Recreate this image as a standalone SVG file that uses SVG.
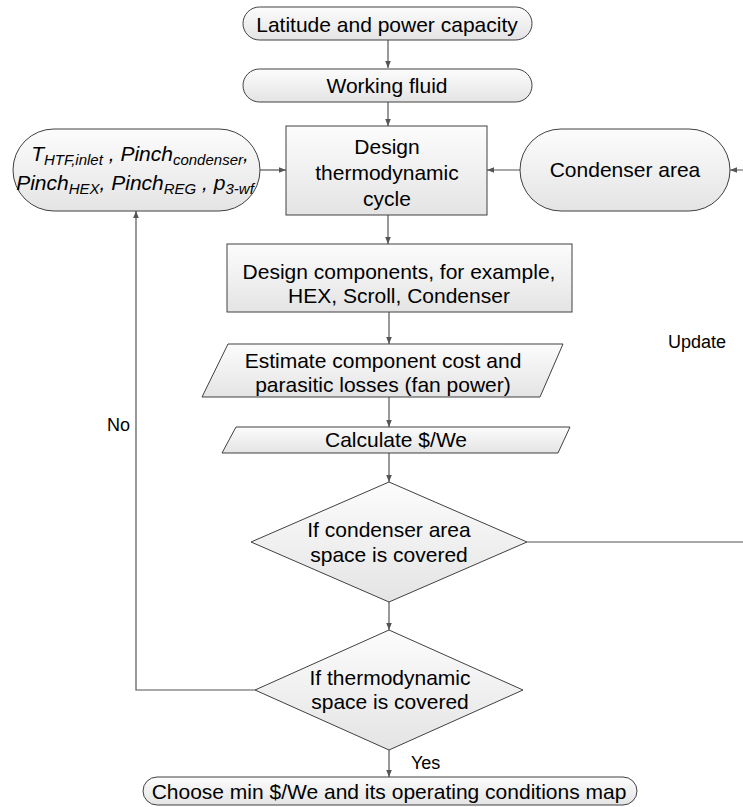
<svg xmlns="http://www.w3.org/2000/svg" width="743" height="807" viewBox="0 0 743 807">
<defs>
<linearGradient id="g" x1="0" y1="0" x2="0" y2="1">
<stop offset="0" stop-color="#fcfcfc"/>
<stop offset="1" stop-color="#e4e4e4"/>
</linearGradient>
<marker id="arr" viewBox="0 0 10 10" refX="10" refY="5" markerWidth="7" markerHeight="7" orient="auto" markerUnits="userSpaceOnUse">
<path d="M0,1 L10,5 L0,9 z" fill="#555"/>
</marker>
</defs>
<style>
.s{fill:url(#g);stroke:#404040;stroke-width:1}
.t{font-family:"Liberation Sans",Arial,sans-serif;font-size:21px;fill:#000;text-anchor:middle}
.l{font-family:"Liberation Sans",Arial,sans-serif;font-size:18px;fill:#000}
.c{fill:none;stroke:#555;stroke-width:1.2}
</style>
<rect width="743" height="807" fill="#fff"/>

<g id="connectors">
<path class="c" d="M388,40 V68" marker-end="url(#arr)"/>
<path class="c" d="M388,102 V126" marker-end="url(#arr)"/>
<path class="c" d="M260,170 H286" marker-end="url(#arr)"/>
<path class="c" d="M520,170 H487" marker-end="url(#arr)"/>
<path class="c" d="M527,542 H746 V170 H730" marker-end="url(#arr)"/>
<path class="c" d="M388,215 V244" marker-end="url(#arr)"/>
<path class="c" d="M389,312 V344" marker-end="url(#arr)"/>
<path class="c" d="M389,397 V427" marker-end="url(#arr)"/>
<path class="c" d="M389,453 V482" marker-end="url(#arr)"/>
<path class="c" d="M389,602 V630" marker-end="url(#arr)"/>
<path class="c" d="M255,690 H136 V211" marker-end="url(#arr)"/>
<path class="c" d="M389,750 V777" marker-end="url(#arr)"/>
<text class="l" x="668" y="348">Update</text>
<text class="l" x="107" y="431">No</text>
<text class="l" x="411" y="769">Yes</text>
</g>

<g id="start">
<rect class="s" x="243" y="7" width="289" height="33" rx="16.5"/>
<text class="t" x="387" y="32">Latitude and power capacity</text>
</g>

<g id="fluid">
<rect class="s" x="243" y="69" width="289" height="33" rx="16.5"/>
<text class="t" x="387" y="93">Working fluid</text>
</g>

<g id="params">
<rect class="s" x="13" y="129" width="247" height="82" rx="41"/>
<text class="t" x="140" y="161" font-style="italic">T<tspan font-size="15" dy="4">HTF,inlet</tspan><tspan dy="-4"> , Pinch</tspan><tspan font-size="15" dy="4">condenser</tspan><tspan dy="-4">,</tspan></text>
<text class="t" x="135" y="190" font-style="italic">Pinch<tspan font-size="15" dy="4">HEX</tspan><tspan dy="-4">, Pinch</tspan><tspan font-size="15" dy="4">REG</tspan><tspan dy="-4"> , p</tspan><tspan font-size="15" dy="4">3-wf</tspan></text>
</g>

<g id="design-cycle">
<rect class="s" x="286" y="126" width="201" height="89"/>
<text class="t" x="387" y="154">Design</text>
<text class="t" x="387" y="180">thermodynamic</text>
<text class="t" x="387" y="206">cycle</text>
</g>

<g id="condenser-area">
<rect class="s" x="520" y="129" width="210" height="82" rx="41"/>
<text class="t" x="625" y="177">Condenser area</text>
</g>

<g id="design-components">
<rect class="s" x="227" y="244" width="345" height="68"/>
<text class="t" x="399" y="279" font-size="21.5">Design components, for example,</text>
<text class="t" x="399" y="303" font-size="21.5">HEX, Scroll, Condenser</text>
</g>

<g id="estimate">
<polygon class="s" points="228,344 563,344 540,397 202,397"/>
<text class="t" x="383" y="368">Estimate component cost and</text>
<text class="t" x="383" y="392">parasitic losses (fan power)</text>
</g>

<g id="calculate">
<polygon class="s" points="236,427 570,427 558,453 222,453"/>
<text class="t" x="396" y="447">Calculate $/We</text>
</g>

<g id="decision-condenser">
<polygon class="s" points="389,482 527,542 389,602 251,542"/>
<text class="t" x="389" y="537">If condenser area</text>
<text class="t" x="389" y="562">space is covered</text>
</g>

<g id="decision-thermo">
<polygon class="s" points="389,630 523,690 389,750 255,690"/>
<text class="t" x="390" y="685">If thermodynamic</text>
<text class="t" x="390" y="709">space is covered</text>
</g>

<g id="end">
<rect class="s" x="143" y="777" width="494" height="28" rx="14"/>
<text class="t" x="389" y="799">Choose min $/We and its operating conditions map</text>
</g>
</svg>
